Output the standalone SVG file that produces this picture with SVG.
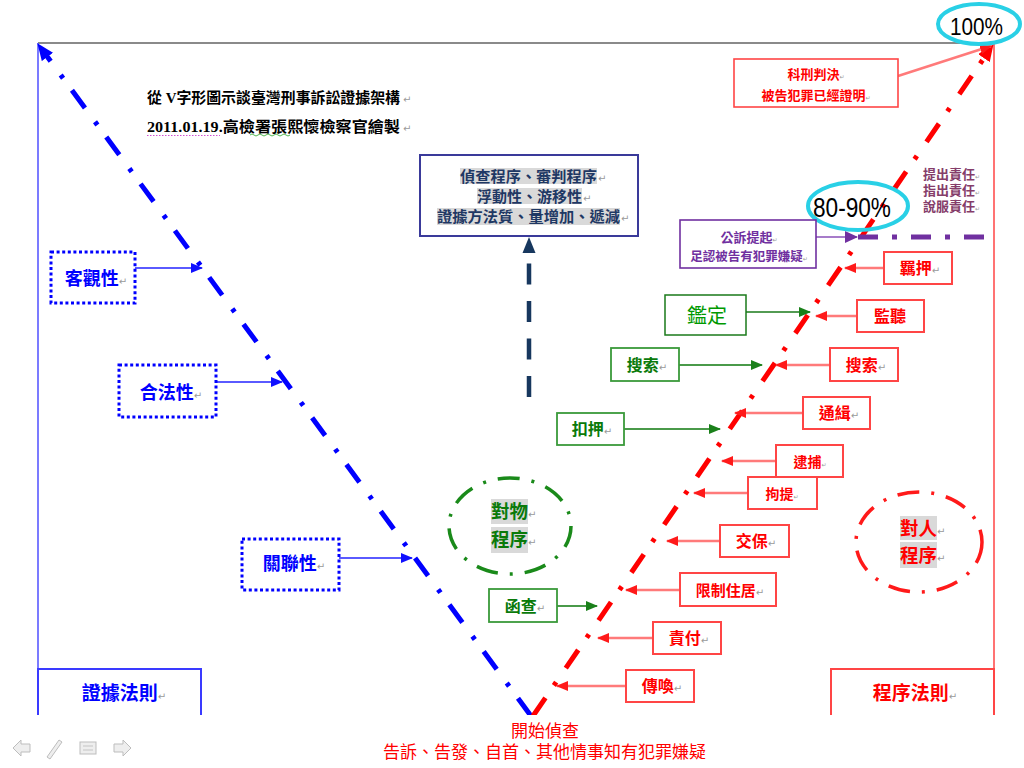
<svg xmlns="http://www.w3.org/2000/svg" width="1024" height="768" viewBox="0 0 1024 768">
<defs>
  <marker id="mRed" markerUnits="userSpaceOnUse" markerWidth="12" markerHeight="10" viewBox="0 0 12 10" refX="11" refY="5" orient="auto"><path d="M0,0 L12,5 L0,10 Z" fill="#ff1a1a"/></marker>
  <marker id="mBlue" markerUnits="userSpaceOnUse" markerWidth="12" markerHeight="10" viewBox="0 0 12 10" refX="11" refY="5" orient="auto"><path d="M0,0 L12,5 L0,10 Z" fill="#1010ff"/></marker>
  <marker id="mGreen" markerUnits="userSpaceOnUse" markerWidth="12" markerHeight="10" viewBox="0 0 12 10" refX="11" refY="5" orient="auto"><path d="M0,0 L12,5 L0,10 Z" fill="#1a801a"/></marker>
  <marker id="mPurple" markerUnits="userSpaceOnUse" markerWidth="13" markerHeight="12" viewBox="0 0 13 12" refX="12" refY="6" orient="auto"><path d="M0,0 L13,6 L0,12 Z" fill="#7030a0"/></marker>
  <marker id="mBigBlue" markerUnits="userSpaceOnUse" markerWidth="17" markerHeight="14" viewBox="0 0 17 14" refX="6" refY="7" orient="auto"><path d="M0,0 L17,7 L0,14 Z" fill="#0000ff"/></marker>
  <marker id="mBigRed" markerUnits="userSpaceOnUse" markerWidth="17" markerHeight="14" viewBox="0 0 17 14" refX="6" refY="7" orient="auto"><path d="M0,0 L17,7 L0,14 Z" fill="#ff0000"/></marker>
  <clipPath id="slide"><rect x="0" y="0" width="1024" height="715"/></clipPath>
</defs>
<style>
  text{font-family:"Liberation Serif","Noto Sans CJK TC","Noto Sans CJK SC",serif;}
  .t-red{fill:#ff0000;font-weight:bold;font-size:16px}
  .b-red{fill:#ffffff;stroke:#ff4545;stroke-width:2}
  .a-red{stroke:#ff7a7a;stroke-width:2.5;fill:none;marker-end:url(#mRed)}
  .t-blue{fill:#0000ff;font-weight:bold;font-size:18px}
  .b-blue{fill:#ffffff;stroke:#0000ff;stroke-width:3;stroke-dasharray:3 2.6}
  .a-blue{stroke:#5a5aff;stroke-width:1.8;fill:none;marker-end:url(#mBlue)}
  .t-green{fill:#0a7a0a;font-weight:bold;font-size:16px}
  .b-green{fill:#ffffff;stroke:#3a9a3a;stroke-width:1.8}
  .a-green{stroke:#4a9a4a;stroke-width:1.8;fill:none;marker-end:url(#mGreen)}
  .t-purple{fill:#7030a0;font-weight:bold;font-size:13px}
  .pm{font-family:"DejaVu Sans",sans-serif;fill:#9a9a9a;font-size:10px;font-weight:normal}
  .ps{font-family:"DejaVu Sans",sans-serif;fill:#9a9a9a;font-size:6px;font-weight:normal}
  .hl{fill:#d9d9d9}
  .cyan{fill:none;stroke:#29d0e6;stroke-width:4}
  .pct{font-family:"Liberation Sans",Arial,sans-serif;fill:#000000}
  .nav{fill:#eeeeee;stroke:#bdbdbd;stroke-width:1}
</style>

<g id="frame" clip-path="url(#slide)">
  <line x1="38" y1="43" x2="994" y2="43" stroke="#8a8a8a" stroke-width="2"/>
  <line x1="38" y1="43" x2="38" y2="715" stroke="#5a5aff" stroke-width="1.6"/>
  <line x1="994" y1="43" x2="994" y2="715" stroke="#ff5050" stroke-width="1.6"/>
</g>

<g id="title">
  <text x="147" y="103" style="font-size:15px;font-weight:bold;fill:#000" textLength="253" lengthAdjust="spacingAndGlyphs">從 V字形圖示談臺灣刑事訴訟證據架構</text>
  <text x="403" y="103" class="pm">↵</text>
  <text x="147" y="132" style="font-size:15px;font-weight:bold;fill:#000" textLength="253" lengthAdjust="spacingAndGlyphs">2011.01.19.高檢署張熙懷檢察官繪製</text>
  <text x="403" y="132" class="pm">↵</text>
  <line x1="147" y1="135.5" x2="220" y2="135.5" stroke="#d050d0" stroke-width="1" stroke-dasharray="1.5 1.5"/>
  <path d="M250,135 q2,-2 4,0 t4,0 t4,0 t4,0 t4,0 t4,0 t4,0 t4,0 t4,0 t4,0" fill="none" stroke="#40b040" stroke-width="0.9"/>
</g>

<g id="center-box">
  <rect x="420" y="155" width="218" height="81" fill="#ffffff" stroke="#3a3a9a" stroke-width="2"/>
  <rect class="hl" x="460" y="168" width="137" height="16"/>
  <rect class="hl" x="477" y="188" width="105" height="16"/>
  <rect class="hl" x="437" y="208" width="183" height="17"/>
  <g style="fill:#1f3864;font-weight:bold;font-size:15px">
    <text x="460" y="181.5" textLength="137" lengthAdjust="spacingAndGlyphs">偵查程序、審判程序</text>
    <text x="477" y="201.5" textLength="105" lengthAdjust="spacingAndGlyphs">浮動性、游移性</text>
    <text x="437" y="222" textLength="183" lengthAdjust="spacingAndGlyphs">證據方法質、量增加、遞減</text>
  </g>
  <text x="598" y="181.5" class="pm">↵</text>
  <text x="583" y="201.5" class="pm">↵</text>
  <text x="621" y="222" class="pm">↵</text>
</g>

<g id="connectors">
  <g clip-path="url(#slide)">
    <path d="M531,716 L43.9,52.1" fill="none" stroke="#0000ff" stroke-width="5" stroke-dasharray="22 15 4 17" marker-end="url(#mBigBlue)"/>
    <path d="M533,716 L987.3,53.2" fill="none" stroke="#ff0000" stroke-width="5" stroke-dasharray="22 15 4 17" marker-end="url(#mBigRed)"/>
  </g>
  <line x1="529" y1="397" x2="529" y2="263" stroke="#17375e" stroke-width="4.5" stroke-dasharray="21 16.5"/>
  <polygon points="529,237 522.5,253 535.5,253" fill="#17375e"/>
  <line x1="816" y1="237" x2="857" y2="237" stroke="#8a50b8" stroke-width="1.6" marker-end="url(#mPurple)"/>
  <line x1="858" y1="237" x2="994" y2="237" stroke="#7030a0" stroke-width="5" stroke-dasharray="20 14 5 14"/>
  <line x1="898" y1="76" x2="991" y2="46" class="a-red"/>
  <line x1="135" y1="268" x2="202" y2="268" class="a-blue"/>
  <line x1="216" y1="382" x2="282" y2="382" class="a-blue"/>
  <line x1="339" y1="558" x2="412" y2="558" class="a-blue"/>
  <line x1="746" y1="312" x2="810" y2="312" class="a-green" style="stroke:#1a7a1a;stroke-width:1.4"/>
  <line x1="679" y1="365" x2="762" y2="365" class="a-green"/>
  <line x1="624" y1="429" x2="720" y2="429" class="a-green"/>
  <line x1="557" y1="606" x2="597" y2="606" class="a-green"/>
  <line x1="884" y1="268" x2="845" y2="268" class="a-red"/>
  <line x1="857" y1="316" x2="816" y2="316" class="a-red"/>
  <line x1="830" y1="365" x2="776" y2="365" class="a-red"/>
  <line x1="803" y1="413" x2="735" y2="413" class="a-red"/>
  <line x1="776" y1="461" x2="722" y2="461" class="a-red"/>
  <line x1="748" y1="493" x2="694" y2="493" class="a-red"/>
  <line x1="720" y1="541" x2="667" y2="541" class="a-red"/>
  <line x1="680" y1="590" x2="626" y2="590" class="a-red"/>
  <line x1="653" y1="638" x2="598" y2="638" class="a-red"/>
  <line x1="626" y1="686" x2="557" y2="686" class="a-red"/>
</g>

<g id="pct-100">
  <ellipse class="cyan" cx="979" cy="24" rx="41" ry="20"/>
  <text class="pct" x="950" y="35" style="font-size:23px" textLength="53" lengthAdjust="spacingAndGlyphs">100%</text>
</g>
<g id="pct-80-90">
  <ellipse class="cyan" cx="858" cy="206" rx="50" ry="24"/>
  <text class="pct" x="813" y="217" style="font-size:27px" textLength="78" lengthAdjust="spacingAndGlyphs">80-90%</text>
</g>

<g id="verdict">
  <rect x="734" y="59" width="164" height="48" class="b-red" style="stroke-width:1.6"/>
  <text x="816" y="79" text-anchor="middle" class="t-red" style="font-size:13px">科刑判決<tspan class="ps">↵</tspan></text>
  <text x="816" y="100" text-anchor="middle" class="t-red" style="font-size:13px">被告犯罪已經證明<tspan class="ps">↵</tspan></text>
</g>

<g id="burden">
  <g style="fill:#853d6a;font-weight:bold;font-size:13px">
    <text x="923" y="178.5">提出責任<tspan class="ps">↵</tspan></text>
    <text x="923" y="195">指出責任<tspan class="ps">↵</tspan></text>
    <text x="923" y="211">說服責任<tspan class="ps">↵</tspan></text>
  </g>
</g>

<g id="prosecution">
  <rect x="680" y="220" width="136" height="48" fill="#ffffff" stroke="#7030a0" stroke-width="1.6"/>
  <text x="749" y="242" text-anchor="middle" class="t-purple">公訴提起<tspan class="ps">↵</tspan></text>
  <text x="749" y="261" text-anchor="middle" class="t-purple" style="font-size:12.5px">足認被告有犯罪嫌疑<tspan class="ps">↵</tspan></text>
</g>

<g id="objectivity">
  <rect x="51" y="252" width="84" height="51" class="b-blue"/>
  <text x="96" y="285" text-anchor="middle" class="t-blue">客觀性<tspan class="pm">↵</tspan></text>
</g>
<g id="legality">
  <rect x="119" y="365" width="97" height="52" class="b-blue"/>
  <text x="171" y="399" text-anchor="middle" class="t-blue">合法性<tspan class="pm">↵</tspan></text>
</g>
<g id="relevance">
  <rect x="242" y="539" width="97" height="51" class="b-blue"/>
  <text x="294" y="570" text-anchor="middle" class="t-blue">關聯性<tspan class="pm">↵</tspan></text>
</g>

<g id="evidence-rules" clip-path="url(#slide)">
  <rect x="38" y="669" width="163" height="70" fill="#ffffff" stroke="#3a3aff" stroke-width="2"/>
  <text x="124" y="700" text-anchor="middle" class="t-blue" style="font-size:19px">證據法則<tspan class="pm">↵</tspan></text>
</g>
<g id="procedure-rules" clip-path="url(#slide)">
  <rect x="831" y="669" width="163" height="70" fill="#ffffff" stroke="#ff4545" stroke-width="2"/>
  <text x="915" y="700" text-anchor="middle" class="t-red" style="font-size:19px">程序法則<tspan class="pm">↵</tspan></text>
</g>

<g id="object-procedure">
  <ellipse cx="510" cy="526" rx="61" ry="48" fill="none" stroke="#1a8a1a" stroke-width="3.5" stroke-dasharray="22 12 3 12"/>
  <rect class="hl" x="491" y="499" width="37" height="25"/>
  <rect class="hl" x="491" y="527" width="37" height="26"/>
  <text x="491" y="518" class="t-green" style="font-size:18.5px">對物<tspan class="pm">↵</tspan></text>
  <text x="491" y="546" class="t-green" style="font-size:18.5px">程序<tspan class="pm">↵</tspan></text>
</g>
<g id="person-procedure">
  <ellipse cx="919" cy="542" rx="63" ry="50" fill="none" stroke="#ff1a1a" stroke-width="3.5" stroke-dasharray="22 12 3 12"/>
  <rect class="hl" x="900" y="516" width="37" height="24"/>
  <rect class="hl" x="900" y="542" width="37" height="26"/>
  <text x="900" y="535" class="t-red" style="font-size:18.5px">對人<tspan class="pm">↵</tspan></text>
  <text x="900" y="562" class="t-red" style="font-size:18.5px">程序<tspan class="pm">↵</tspan></text>
</g>

<g id="g-appraisal">
  <rect x="665" y="295" width="81" height="40" fill="#ffffff" stroke="#1a7a1a" stroke-width="1.5"/>
  <text x="707" y="323" text-anchor="middle" style="fill:#009900;font-size:20px">鑑定</text>
</g>
<g id="g-search">
  <rect x="611" y="348" width="68" height="33" class="b-green"/>
  <text x="647" y="371" text-anchor="middle" class="t-green">搜索<tspan class="pm">↵</tspan></text>
</g>
<g id="g-seize">
  <rect x="557" y="413" width="67" height="32" class="b-green"/>
  <text x="592" y="435" text-anchor="middle" class="t-green">扣押<tspan class="pm">↵</tspan></text>
</g>
<g id="g-inquiry">
  <rect x="489" y="589" width="68" height="33" class="b-green"/>
  <text x="525" y="612" text-anchor="middle" class="t-green">函查<tspan class="pm">↵</tspan></text>
</g>

<g id="r-detain">
  <rect x="884" y="252" width="68" height="32" class="b-red"/>
  <text x="920" y="274" text-anchor="middle" class="t-red">羈押<tspan class="pm">↵</tspan></text>
</g>
<g id="r-wiretap">
  <rect x="857" y="300" width="67" height="32" class="b-red"/>
  <text x="890" y="322" text-anchor="middle" class="t-red">監聽</text>
</g>
<g id="r-search">
  <rect x="830" y="348" width="68" height="33" class="b-red"/>
  <text x="866" y="371" text-anchor="middle" class="t-red">搜索<tspan class="pm">↵</tspan></text>
</g>
<g id="r-wanted">
  <rect x="803" y="397" width="67" height="32" class="b-red"/>
  <text x="839" y="419" text-anchor="middle" class="t-red">通緝<tspan class="pm">↵</tspan></text>
</g>
<g id="r-arrest">
  <rect x="776" y="445" width="67" height="32" class="b-red"/>
  <text x="810" y="467" text-anchor="middle" class="t-red" style="font-size:14px">逮捕<tspan class="ps">↵</tspan></text>
</g>
<g id="r-summon-force">
  <rect x="748" y="477" width="69" height="32" class="b-red"/>
  <text x="782" y="499" text-anchor="middle" class="t-red" style="font-size:14px">拘提<tspan class="ps">↵</tspan></text>
</g>
<g id="r-bail">
  <rect x="720" y="525" width="69" height="32" class="b-red"/>
  <text x="756" y="547" text-anchor="middle" class="t-red">交保<tspan class="pm">↵</tspan></text>
</g>
<g id="r-residence">
  <rect x="680" y="573" width="96" height="33" class="b-red"/>
  <text x="730" y="596" text-anchor="middle" class="t-red" style="font-size:15px">限制住居<tspan class="pm">↵</tspan></text>
</g>
<g id="r-custody">
  <rect x="653" y="622" width="68" height="32" class="b-red"/>
  <text x="689" y="644" text-anchor="middle" class="t-red">責付<tspan class="pm">↵</tspan></text>
</g>
<g id="r-summon">
  <rect x="626" y="670" width="68" height="32" class="b-red"/>
  <text x="662" y="692" text-anchor="middle" class="t-red">傳喚<tspan class="pm">↵</tspan></text>
</g>

<g id="start">
  <text x="545" y="737" text-anchor="middle" style="fill:#ff0000;font-size:17px">開始偵查</text>
  <text x="383" y="758" style="fill:#ff0000;font-size:17px" textLength="323" lengthAdjust="spacingAndGlyphs">告訴、告發、自首、其他情事知有犯罪嫌疑</text>
</g>

<g id="nav">
  <path class="nav" d="M13,748 L21,740 L21,744 L30,744 L30,752 L21,752 L21,756 Z"/>
  <path class="nav" d="M47,757 L59,740 L62,742 L50,759 Z"/>
  <rect class="nav" x="80" y="742" width="16" height="12"/>
  <line x1="83" y1="746" x2="93" y2="746" stroke="#c4c4c4"/>
  <line x1="83" y1="750" x2="93" y2="750" stroke="#c4c4c4"/>
  <path class="nav" d="M131,748 L123,740 L123,744 L114,744 L114,752 L123,752 L123,756 Z"/>
</g>
</svg>
